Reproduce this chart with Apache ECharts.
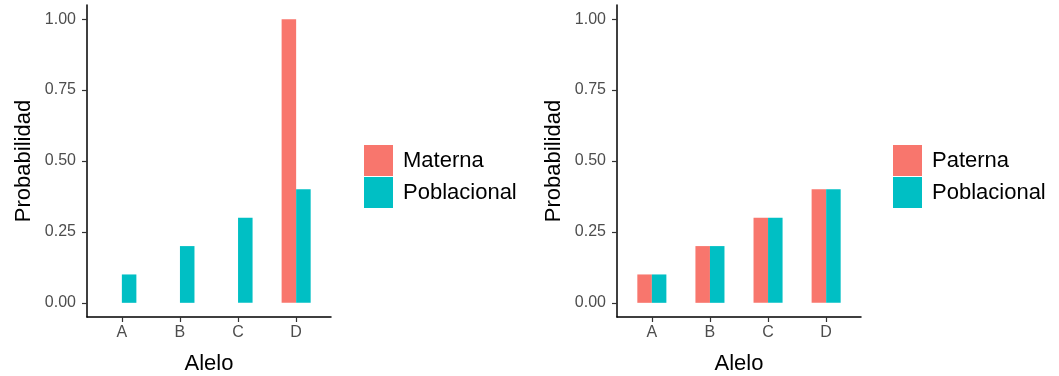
<!DOCTYPE html>
<html>
<head>
<meta charset="utf-8">
<script src="https://cdn.jsdelivr.net/npm/echarts@6/dist/echarts.min.js"></script>
<style>
html,body{margin:0;padding:0;background:#fff;}
#c{width:1059px;height:376px;}
</style>
</head>
<body>
<div id="c"></div>
<script>
const categories = ['A', 'B', 'C', 'D'];
const yTicks = [0, 0.25, 0.5, 0.75, 1];
const maternaValues = [0, 0, 0, 1];
const poblacionalLeft = [0.1, 0.2, 0.3, 0.4];
const paternaValues = [0.1, 0.2, 0.3, 0.4];
const poblacionalRight = [0.1, 0.2, 0.3, 0.4];
const xTitle = 'Alelo';
const yTitle = 'Probabilidad';

const RED = '#F8766D', TEAL = '#00BFC4';
const FONT = 'Liberation Sans, Arial, Helvetica, sans-serif';
const idx = categories.map((c, i) => i);
const pairs = vals => vals.map((v, i) => [i, v]);

function xAxis(gi) {
  return {
    type: 'value', gridIndex: gi, min: -0.6, max: 3.6,
    name: xTitle, nameLocation: 'middle', nameGap: 36,
    nameTextStyle: {fontFamily: FONT, fontSize: 22, color: '#000'},
    axisLine: {show: true, onZero: false, lineStyle: {color: '#000', width: 1.5}},
    axisTick: {show: true, length: 5, customValues: idx, lineStyle: {color: '#333', width: 1.2}},
    axisLabel: {customValues: idx, formatter: v => categories[Math.round(v)] || '', margin: 8,
      fontFamily: FONT, fontSize: 16, color: '#4d4d4d'},
    splitLine: {show: false}
  };
}
function yAxis(gi) {
  return {
    type: 'value', gridIndex: gi, min: -0.05, max: 1.05,
    name: yTitle, nameLocation: 'middle', nameGap: 52, nameRotate: 90,
    nameTextStyle: {fontFamily: FONT, fontSize: 22, color: '#000'},
    axisLine: {show: true, onZero: false, lineStyle: {color: '#000', width: 1.5}},
    axisTick: {show: true, length: 5, customValues: yTicks, lineStyle: {color: '#333', width: 1.2}},
    axisLabel: {customValues: yTicks, formatter: v => v.toFixed(2), margin: 11,
      fontFamily: FONT, fontSize: 16, color: '#4d4d4d'},
    splitLine: {show: false}
  };
}
function legend(left, names) {
  return {
    left: left, top: 145, orient: 'vertical', icon: 'rect', padding: 0,
    itemWidth: 29, itemHeight: 31, itemGap: 1, data: names,
    textStyle: {fontFamily: FONT, fontSize: 22, color: '#000', padding: [0, 0, 0, 5]}
  };
}
function bar(name, vals, gi, color) {
  return {
    type: 'bar', name: name, xAxisIndex: gi, yAxisIndex: gi,
    data: pairs(vals), barWidth: '25%', barGap: '0%',
    itemStyle: {color: color}, emphasis: {disabled: true}
  };
}

const chart = echarts.init(document.getElementById('c'), null, {renderer: 'canvas'});
chart.setOption({
  animation: false,
  backgroundColor: '#fff',
  grid: [
    {left: 87, top: 5, width: 244, height: 312, outerBoundsMode: 'none', containLabel: false},
    {left: 617, top: 5, width: 244, height: 312, outerBoundsMode: 'none', containLabel: false}
  ],
  xAxis: [xAxis(0), xAxis(1)],
  yAxis: [yAxis(0), yAxis(1)],
  legend: [legend(364, ['Materna', 'Poblacional ']), legend(893, ['Paterna', 'Poblacional'])],
  series: [
    bar('Materna', maternaValues, 0, RED),
    bar('Poblacional ', poblacionalLeft, 0, TEAL),
    bar('Paterna', paternaValues, 1, RED),
    bar('Poblacional', poblacionalRight, 1, TEAL)
  ]
});
</script>
</body>
</html>
